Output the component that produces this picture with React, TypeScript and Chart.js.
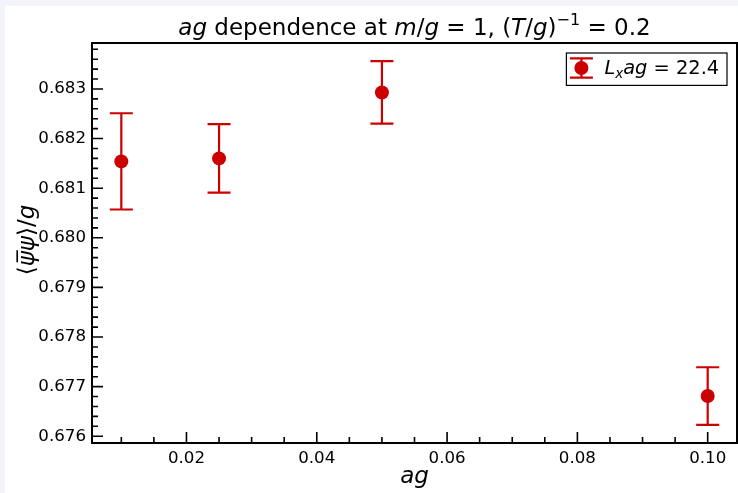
import React, { useEffect, useRef } from 'react';
import { Chart, registerables } from 'chart.js';

Chart.register(...registerables);

// ---- data ----
const agValues = [0.01, 0.025, 0.05, 0.1];
const condensate = [0.68154, 0.6816, 0.68293, 0.67681];
const condensateErr = [0.00097, 0.00069, 0.00063, 0.00058];
const xTickLabels = ['0.02', '0.04', '0.06', '0.08', '0.10'];
const yTickLabels = ['0.676', '0.677', '0.678', '0.679', '0.680', '0.681', '0.682', '0.683'];
const latticeLength = '22.4';

const X_MINOR = 0.005;
const Y_MINOR = 0.0002;
const RED = '#cc0000';
const FONT = '"DejaVu Sans", sans-serif';
const W = 733;
const H = 487;

type Run = { t: string; it?: boolean; sup?: boolean; sub?: boolean };

const titleRuns: Run[] = [
  { t: 'ag', it: true },
  { t: ' dependence at ' },
  { t: 'm', it: true },
  { t: '/' },
  { t: 'g', it: true },
  { t: ' = 1, (' },
  { t: 'T', it: true },
  { t: '/' },
  { t: 'g', it: true },
  { t: ')' },
  { t: '\u22121', sup: true },
  { t: ' = 0.2' },
];
const xLabelRuns: Run[] = [{ t: 'ag', it: true }];
const yLabelRuns: Run[] = [
  { t: '\u27E8' },
  { t: '\u03C8\u0305\u03C8', it: true },
  { t: '\u27E9/' },
  { t: 'g', it: true },
];
const legendRuns: Run[] = [
  { t: 'L', it: true },
  { t: 'x', it: true, sub: true },
  { t: 'ag', it: true },
  { t: ' = ' + latticeLength },
];

function runFont(r: Run, size: number) {
  const s = r.sup || r.sub ? size * 0.7 : size;
  return `${r.it ? 'italic ' : ''}${s}px ${FONT}`;
}
function measureRuns(ctx: CanvasRenderingContext2D, runs: Run[], size: number) {
  let w = 0;
  for (const r of runs) {
    ctx.font = runFont(r, size);
    w += ctx.measureText(r.t).width;
  }
  return w;
}
function drawRuns(ctx: CanvasRenderingContext2D, runs: Run[], x: number, y: number, size: number) {
  let cx = x;
  ctx.textAlign = 'left';
  ctx.textBaseline = 'alphabetic';
  for (const r of runs) {
    ctx.font = runFont(r, size);
    const dy = r.sup ? -size * 0.4 : r.sub ? size * 0.22 : 0;
    ctx.fillText(r.t, cx, y + dy);
    cx += ctx.measureText(r.t).width;
  }
}

function padRange(lo: number, hi: number) {
  const m = (hi - lo) * 0.05;
  return [lo - m, hi + m];
}
const [xMin, xMax] = padRange(Math.min(...agValues), Math.max(...agValues));
const [yMin, yMax] = padRange(
  Math.min(...condensate.map((v, i) => v - condensateErr[i])),
  Math.max(...condensate.map((v, i) => v + condensateErr[i]))
);

function buildTicks(min: number, max: number, step: number, labels: string[]) {
  const majors = labels.map(parseFloat);
  const out: { value: number }[] = [];
  const start = Math.ceil(min / step - 1e-9);
  const end = Math.floor(max / step + 1e-9);
  for (let k = start; k <= end; k++) out.push({ value: +(k * step).toFixed(6) });
  for (const m of majors) if (!out.some((t) => Math.abs(t.value - m) < 1e-9) && m >= min && m <= max) out.push({ value: m });
  out.sort((a, b) => a.value - b.value);
  return out;
}
function labelFor(labels: string[]) {
  return (value: number) => {
    const i = labels.findIndex((l) => Math.abs(parseFloat(l) - value) < 1e-9);
    return i >= 0 ? labels[i] : '';
  };
}

const decorPlugin = {
  id: 'decor',
  beforeDatasetsDraw(chart: any) {
    const ctx = chart.ctx as CanvasRenderingContext2D;
    const xs = chart.scales.x;
    const ys = chart.scales.y;
    ctx.save();
    ctx.strokeStyle = RED;
    ctx.lineWidth = 2.2;
    agValues.forEach((x, i) => {
      const px = xs.getPixelForValue(x);
      const top = ys.getPixelForValue(condensate[i] + condensateErr[i]);
      const bot = ys.getPixelForValue(condensate[i] - condensateErr[i]);
      ctx.beginPath();
      ctx.moveTo(px, top);
      ctx.lineTo(px, bot);
      ctx.moveTo(px - 11.5, top);
      ctx.lineTo(px + 11.5, top);
      ctx.moveTo(px - 11.5, bot);
      ctx.lineTo(px + 11.5, bot);
      ctx.stroke();
    });
    ctx.restore();
  },
  afterDraw(chart: any) {
    const ctx = chart.ctx as CanvasRenderingContext2D;
    const ca = chart.chartArea;
    const xs = chart.scales.x;
    const ys = chart.scales.y;
    ctx.save();
    // ticks (inward)
    ctx.strokeStyle = '#000';
    ctx.lineWidth = 1.6;
    ctx.beginPath();
    xs.ticks.forEach((t: any) => {
      const px = xs.getPixelForValue(t.value);
      const len = t.label ? 11 : 6;
      ctx.moveTo(px, ca.bottom);
      ctx.lineTo(px, ca.bottom - len);
    });
    ys.ticks.forEach((t: any) => {
      const py = ys.getPixelForValue(t.value);
      const len = t.label ? 11 : 6;
      ctx.moveTo(ca.left, py);
      ctx.lineTo(ca.left + len, py);
    });
    ctx.stroke();
    // spines
    ctx.lineWidth = 2;
    ctx.strokeRect(ca.left, ca.top, ca.right - ca.left, ca.bottom - ca.top);

    ctx.fillStyle = '#000';
    // title
    const tSize = 23;
    const tw = measureRuns(ctx, titleRuns, tSize);
    drawRuns(ctx, titleRuns, (ca.left + ca.right) / 2 - tw / 2, 28.5, tSize);
    // x label
    const lSize = 23;
    const xw = measureRuns(ctx, xLabelRuns, lSize);
    drawRuns(ctx, xLabelRuns, (ca.left + ca.right) / 2 - xw / 2, 477, lSize);
    // y label
    const yw = measureRuns(ctx, yLabelRuns, lSize);
    ctx.save();
    ctx.translate(29, (ca.top + ca.bottom) / 2 - 3);
    ctx.rotate(-Math.PI / 2);
    drawRuns(ctx, yLabelRuns, -yw / 2, 0, lSize);
    ctx.restore();

    // legend
    const bw = 160.6;
    const bh = 32.4;
    const lx = ca.right - 10 - bw;
    const ly = ca.top + 10;
    ctx.fillStyle = '#fff';
    ctx.fillRect(lx, ly, bw, bh);
    ctx.strokeStyle = '#000';
    ctx.lineWidth = 1.2;
    ctx.strokeRect(lx, ly, bw, bh);
    const mx = lx + 15;
    const my = ly + 15;
    ctx.strokeStyle = RED;
    ctx.lineWidth = 2.2;
    ctx.beginPath();
    ctx.moveTo(mx, my - 9.7);
    ctx.lineTo(mx, my + 9.7);
    ctx.moveTo(mx - 11.5, my - 9.7);
    ctx.lineTo(mx + 11.5, my - 9.7);
    ctx.moveTo(mx - 11.5, my + 9.7);
    ctx.lineTo(mx + 11.5, my + 9.7);
    ctx.stroke();
    ctx.fillStyle = RED;
    ctx.beginPath();
    ctx.arc(mx, my, 7, 0, Math.PI * 2);
    ctx.fill();
    ctx.fillStyle = '#000';
    drawRuns(ctx, legendRuns, lx + 38, ly + 21, 19.4);
    ctx.restore();
  },
};

export default function App() {
  const ref = useRef<HTMLCanvasElement | null>(null);
  useEffect(() => {
    document.body.style.margin = '0';
    document.body.style.background = '#f3f3fc';
    const canvas = ref.current;
    if (!canvas) return;
    const chart = new Chart(canvas, {
      type: 'scatter',
      data: {
        datasets: [
          {
            label: 'Lxag = ' + latticeLength,
            data: agValues.map((x, i) => ({ x, y: condensate[i] })),
            pointRadius: 7,
            pointHoverRadius: 7,
            backgroundColor: RED,
            borderColor: RED,
            borderWidth: 0,
            showLine: false,
            clip: false,
          },
        ],
      },
      options: {
        responsive: false,
        animation: false,
        events: [],
        layout: { autoPadding: false, padding: { top: 37, right: 1, left: 0, bottom: 0 } },
        plugins: {
          legend: { display: false },
          tooltip: { enabled: false },
          title: { display: false },
        },
        scales: {
          x: {
            type: 'linear',
            min: xMin,
            max: xMax,
            grid: { display: false, drawTicks: false },
            border: { display: false },
            ticks: {
              autoSkip: false,
              maxRotation: 0,
              minRotation: 0,
              padding: 6,
              color: '#000',
              font: { family: FONT, size: 16.67 },
              callback: labelFor(xTickLabels) as any,
            },
            afterBuildTicks: (s: any) => {
              s.ticks = buildTicks(xMin, xMax, X_MINOR, xTickLabels);
            },
            afterFit: (s: any) => {
              s.height = 50;
              s.paddingLeft = 0;
              s.paddingRight = 0;
            },
          },
          y: {
            type: 'linear',
            min: yMin,
            max: yMax,
            grid: { display: false, drawTicks: false },
            border: { display: false },
            ticks: {
              autoSkip: false,
              padding: 6,
              color: '#000',
              font: { family: FONT, size: 16.67 },
              callback: labelFor(yTickLabels) as any,
            },
            afterBuildTicks: (s: any) => {
              s.ticks = buildTicks(yMin, yMax, Y_MINOR, yTickLabels);
            },
            afterFit: (s: any) => {
              s.width = 87;
              s.paddingTop = 0;
              s.paddingBottom = 0;
            },
          },
        },
      },
      plugins: [decorPlugin],
    });
    return () => chart.destroy();
  }, []);
  return (
    <div style={{ position: 'absolute', left: 5, top: 6, width: W, height: H, background: '#fff' }}>
      <canvas ref={ref} width={W} height={H} style={{ display: 'block' }} />
    </div>
  );
}
